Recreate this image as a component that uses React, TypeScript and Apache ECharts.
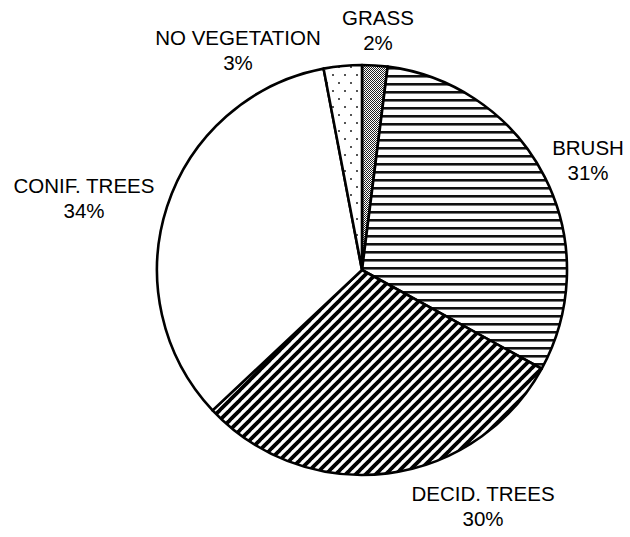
import React, { useEffect, useRef } from 'react';
import * as echarts from 'echarts';

// ---- data ----
const categories = ['GRASS', 'BRUSH', 'DECID. TREES', 'CONIF. TREES', 'NO VEGETATION'];
const values = [2, 31, 30, 34, 3];
const fills = ['checker', 'hlines', 'diag', 'plain', 'dots'];

// label block centres (layout)
const LABEL_POS: [number, number][] = [
  [378, 30],
  [588, 160],
  [483, 506],
  [84, 198],
  [238, 50],
];

function makeFill(kind: string): any {
  if (kind === 'plain') return '#ffffff';
  const c = document.createElement('canvas');
  let w = 8;
  let h = 8;
  if (kind === 'checker') { w = 2; h = 2; }
  if (kind === 'diag') { w = 10; h = 10; }
  if (kind === 'dots') { w = 12; h = 16; }
  c.width = w;
  c.height = h;
  const ctx = c.getContext('2d')!;
  ctx.fillStyle = '#ffffff';
  ctx.fillRect(0, 0, w, h);
  if (kind === 'checker') {
    ctx.fillStyle = '#222';
    ctx.fillRect(0, 0, 1, 1);
    ctx.fillRect(1, 1, 1, 1);
  } else if (kind === 'hlines') {
    ctx.fillStyle = '#111';
    ctx.fillRect(0, 3, w, 2);
    ctx.fillStyle = '#777';
    ctx.fillRect(0, 5, w, 1);
  } else if (kind === 'diag') {
    ctx.strokeStyle = '#000';
    ctx.lineWidth = 3.8;
    for (let k = -1; k <= 1; k++) {
      ctx.beginPath();
      ctx.moveTo(k * w - 1, h + 1);
      ctx.lineTo(k * w + w + 1, -1);
      ctx.stroke();
    }
  } else if (kind === 'dots') {
    ctx.fillStyle = '#555';
    ctx.fillRect(2, 2, 2, 2);
    ctx.fillRect(8, 10, 2, 2);
  }
  return { image: c, repeat: 'repeat', imageWidth: w, imageHeight: h };
}

export default function App() {
  const ref = useRef<HTMLDivElement>(null);
  useEffect(() => {
    if (!ref.current) return;
    const chart = echarts.init(ref.current, null, { renderer: 'svg' });
    chart.setOption({
      animation: false,
      backgroundColor: '#ffffff',
      series: [
        {
          type: 'pie',
          center: [362, 270],
          radius: 205,
          startAngle: 90,
          clockwise: true,
          avoidLabelOverlap: false,
          silent: true,
          data: categories.map((name, i) => ({
            name,
            value: values[i],
            itemStyle: { color: makeFill(fills[i]) },
          })),
          itemStyle: { borderColor: '#000', borderWidth: 2.6 },
          label: {
            show: true,
            position: 'outside',
            formatter: (p: any) => `${p.name}\n${p.value}%`,
            fontFamily: 'Liberation Sans, Arial, sans-serif',
            fontSize: 20.5,
            lineHeight: 25,
            color: '#000',
            align: 'center',
          },
          labelLine: { show: false },
          labelLayout: (params: any) => {
            const p = LABEL_POS[params.dataIndex];
            return { x: p[0], y: p[1], align: 'center', verticalAlign: 'middle' };
          },
        },
      ],
    });
    return () => chart.dispose();
  }, []);
  return (
    <div
      ref={ref}
      style={{ position: 'absolute', left: 0, top: 0, width: 630, height: 537 }}
    />
  );
}
